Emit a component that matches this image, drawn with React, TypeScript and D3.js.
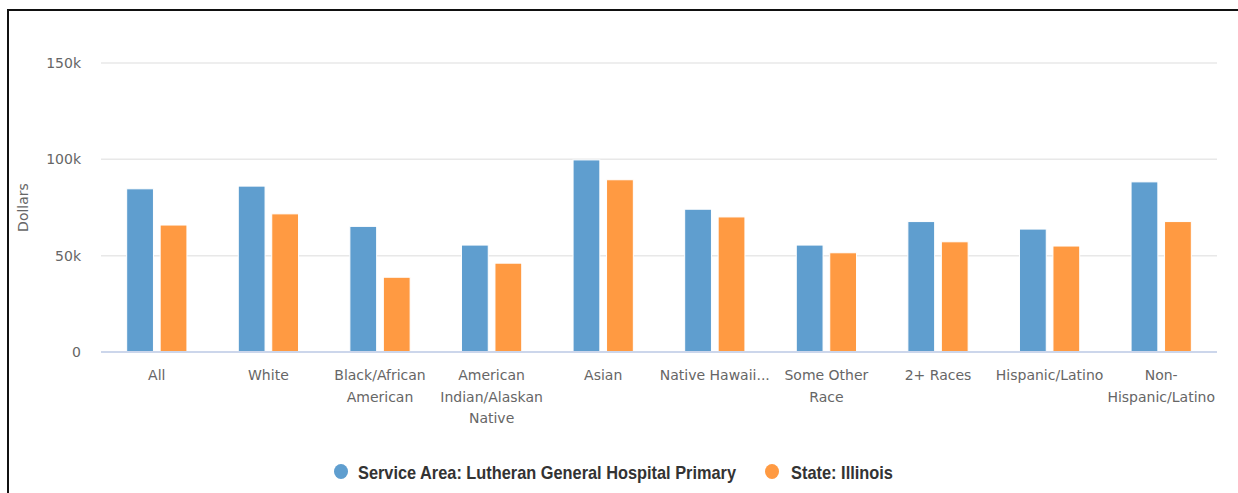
import React from "react";
import * as d3 from "d3";

const categories: string[][] = [
  ["All"],
  ["White"],
  ["Black/African", "American"],
  ["American", "Indian/Alaskan", "Native"],
  ["Asian"],
  ["Native Hawaii..."],
  ["Some Other", "Race"],
  ["2+ Races"],
  ["Hispanic/Latino"],
  ["Non-", "Hispanic/Latino"],
];

const serviceArea = [84700, 86100, 65200, 55500, 99700, 74100, 55500, 67700, 63800, 88300];
const stateIllinois = [65900, 71700, 38800, 46100, 89400, 70100, 51500, 57200, 55000, 67700];

const yTicks = [0, 50000, 100000, 150000];
const seriesNames = ["Service Area: Lutheran General Hospital Primary", "State: Illinois"];
const colors = ["#5f9ecf", "#ff9a42"];

const W = 1238;
const H = 493;
const plot = { left: 101, right: 1217, top: 63, bottom: 352 };

// legend item layout: marker centre, text start, text width
const legendItems = [
  { cx: 341, tx: 358, tw: 378 },
  { cx: 772, tx: 791, tw: 102 },
];

export default function App() {
  const x0 = d3
    .scaleBand<number>()
    .domain(categories.map((_, i) => i))
    .range([plot.left, plot.right])
    .paddingInner(0)
    .paddingOuter(0);
  const groupPad = 0.2 * x0.bandwidth();
  const x1 = d3
    .scaleBand<number>()
    .domain([0, 1])
    .range([0, x0.bandwidth() - 2 * groupPad])
    .paddingInner(0.2)
    .paddingOuter(0.1);
  const y = d3.scaleLinear().domain([0, 150000]).range([plot.bottom, plot.top]);
  const fmt = (v: number) => (v === 0 ? "0" : `${v / 1000}k`);
  const series = [serviceArea, stateIllinois];
  const font = "'DejaVu Sans', sans-serif";

  return (
    <svg
      width={W}
      height={H}
      style={{ position: "absolute", left: 0, top: 0, background: "#fff" }}
    >
      <rect x={0} y={0} width={W} height={H} fill="#fff" />
      {/* frame */}
      <rect x={8} y={10} width={W + 10} height={H + 10} fill="none" stroke="#111" strokeWidth={2} />

      {/* grid and y tick labels */}
      {yTicks.map((t) => (
        <g key={t}>
          {t !== 0 && (
            <line x1={plot.left} x2={plot.right} y1={y(t)} y2={y(t)} stroke="#e8e8e8" strokeWidth={1.5} />
          )}
          <text
            x={81}
            y={y(t)}
            dy="0.35em"
            textAnchor="end"
            fontFamily={font}
            fontSize={14}
            fill="#666"
          >
            {fmt(t)}
          </text>
        </g>
      ))}

      <text
        transform={`translate(23,${(plot.top + plot.bottom) / 2}) rotate(-90)`}
        textAnchor="middle"
        dy="0.35em"
        fontFamily={font}
        fontSize={14}
        fill="#666"
      >
        Dollars
      </text>

      {/* bars */}
      {categories.map((_, i) => (
        <g key={i} transform={`translate(${x0(i)! + groupPad},0)`}>
          {series.map((s, k) => (
            <rect
              key={k}
              x={x1(k)!}
              y={y(s[i])}
              width={x1.bandwidth()}
              height={plot.bottom - y(s[i])}
              fill={colors[k]}
              stroke="#fff"
              strokeWidth={1}
            />
          ))}
        </g>
      ))}

      <line x1={plot.left} x2={plot.right} y1={plot.bottom} y2={plot.bottom} stroke="#ccd6eb" strokeWidth={2} />

      {/* category labels */}
      {categories.map((lines, i) => (
        <text
          key={i}
          x={x0(i)! + x0.bandwidth() / 2}
          y={380}
          textAnchor="middle"
          fontFamily={font}
          fontSize={14}
          fill="#666"
        >
          {lines.map((l, j) => (
            <tspan key={j} x={x0(i)! + x0.bandwidth() / 2} dy={j === 0 ? 0 : 21.5}>
              {l}
            </tspan>
          ))}
        </text>
      ))}

      {/* legend */}
      {legendItems.map((p, k) => (
        <g key={k}>
          <ellipse cx={p.cx} cy={471.5} rx={7} ry={7.5} fill={colors[k]} />
          <text
            x={p.tx}
            y={478.5}
            fontFamily="'Liberation Sans', Arial, sans-serif"
            fontWeight="bold"
            fontSize={18.5}
            fill="#333"
            textLength={p.tw}
            lengthAdjust="spacingAndGlyphs"
          >
            {seriesNames[k]}
          </text>
        </g>
      ))}
    </svg>
  );
}
